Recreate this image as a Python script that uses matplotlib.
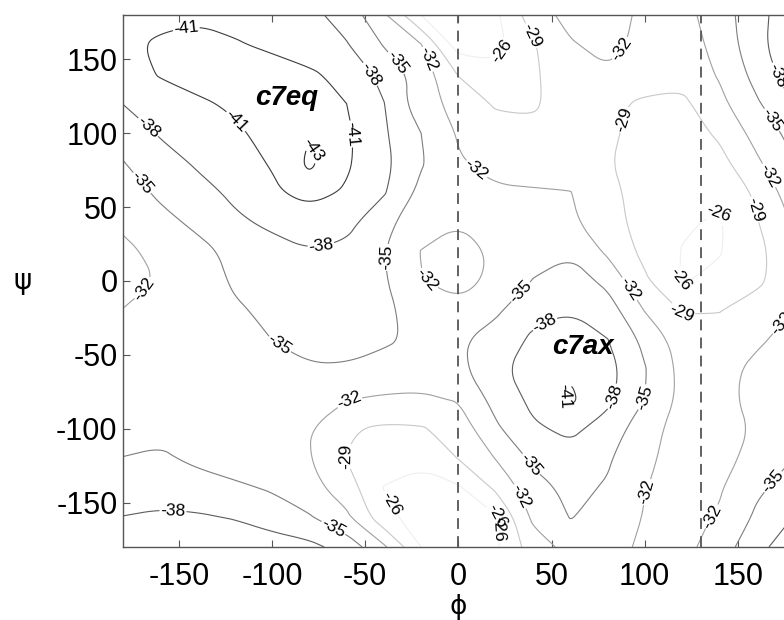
import matplotlib
matplotlib.use("Agg")
import matplotlib.pyplot as plt
from matplotlib.path import Path
import numpy as np

# grid of the energy surface (kcal/mol)
phi_deg = [-180, -160, -140, -120, -100, -80, -60, -40, -20, 0,
           20, 40, 60, 80, 100, 120, 140, 160, 180]
psi_deg = [-180, -160, -140, -120, -100, -80, -60, -40, -20, 0,
           20, 40, 60, 80, 100, 120, 140, 160, 180]

# one row per psi value, columns follow phi_deg
row_m180 = [-40.0, -40.5, -40.7, -40.3, -39.6, -38.8, -36.8, -32.5, -26.0, -24.5, -25.5, -30.5, -33.0, -33.0, -31.5, -31.0, -33.5, -37.0, -40.0]
row_m160 = [-38.1, -38.6, -38.4, -37.8, -36.5, -35.3, -32.6, -27.0, -24.5, -24.3, -25.6, -32.6, -35.1, -34.2, -31.8, -31.0, -32.3, -35.5, -38.1]
row_m140 = [-36.2, -36.4, -36.0, -35.5, -34.7, -33.0, -30.5, -25.9, -25.3, -25.6, -29.5, -33.8, -35.8, -34.7, -32.1, -30.9, -31.7, -34.5, -36.2]
row_m120 = [-35.05, -35.4, -34.5, -33.6, -32.8, -32.1, -28.9, -27.0, -26.4, -29.1, -32.1, -35.6, -37.0, -35.4, -32.5, -31.0, -31.2, -32.8, -35.05]
row_m100 = [-34.2, -34.3, -33.9, -33.2, -32.6, -32.1, -29.3, -28.5, -28.7, -30.3, -34.5, -37.6, -38.6, -37.0, -33.0, -31.0, -31.0, -32.3, -34.2]
row_m80 = [-33.7, -33.9, -33.8, -33.4, -33.0, -32.8, -32.1, -31.6, -31.6, -32.2, -36.0, -38.7, -41.6, -38.6, -35.0, -31.2, -31.6, -32.4, -33.7]
row_m60 = [-33.2, -33.5, -33.7, -33.9, -34.2, -34.7, -34.6, -34.0, -33.3, -34.3, -37.1, -39.7, -40.6, -39.2, -35.2, -31.2, -31.3, -32.5, -33.2]
row_m40 = [-32.7, -33.4, -33.9, -34.3, -35.0, -36.0, -36.3, -35.4, -34.4, -34.6, -36.3, -38.5, -39.8, -38.1, -34.3, -30.6, -30.0, -31.7, -32.7]
row_m20 = [-32.1, -33.0, -34.0, -34.7, -35.5, -36.2, -36.5, -35.6, -33.8, -32.8, -34.5, -37.2, -37.9, -36.5, -31.9, -28.8, -28.9, -30.3, -32.1]
row_0 = [-30.8, -32.2, -33.8, -35.3, -36.3, -36.6, -36.4, -35.3, -32.1, -31.0, -32.6, -35.1, -36.6, -34.2, -29.5, -25.8, -26.7, -28.4, -30.8]
row_p20 = [-31.5, -32.6, -34.2, -35.7, -37.0, -37.9, -37.3, -35.1, -31.9, -31.2, -32.3, -34.2, -34.6, -31.5, -28.2, -25.9, -25.8, -28.0, -31.5]
row_p40 = [-32.4, -34.2, -35.6, -37.5, -38.6, -39.5, -39.0, -35.8, -33.3, -32.1, -32.6, -33.0, -32.6, -30.0, -28.0, -26.3, -25.7, -28.8, -32.4]
row_p60 = [-33.7, -35.5, -37.0, -38.6, -40.6, -42.0, -40.7, -38.3, -34.2, -32.8, -32.4, -32.3, -32.1, -29.8, -27.8, -26.8, -26.5, -29.5, -33.7]
row_p80 = [-34.9, -36.7, -38.4, -40.0, -41.2, -43.4, -41.4, -38.8, -35.3, -32.3, -31.0, -30.5, -30.2, -29.2, -27.8, -27.0, -28.0, -31.5, -34.9]
row_p100 = [-36.0, -38.3, -39.5, -40.6, -41.8, -42.9, -41.5, -38.4, -35.0, -31.7, -30.3, -29.5, -30.0, -29.5, -28.0, -27.5, -29.5, -33.0, -36.0]
row_p120 = [-38.05, -39.8, -40.6, -41.4, -42.3, -42.6, -41.0, -38.1, -33.0, -31.2, -28.6, -28.7, -30.0, -29.6, -28.5, -28.3, -31.2, -34.6, -38.05]
row_p140 = [-39.8, -41.2, -42.0, -42.0, -41.9, -41.4, -40.2, -37.0, -33.8, -28.8, -27.0, -28.5, -31.0, -31.6, -30.5, -30.0, -32.3, -36.0, -39.8]
row_p160 = [-40.6, -41.3, -41.6, -41.2, -40.6, -39.6, -38.2, -34.8, -32.1, -24.5, -25.0, -28.7, -31.7, -33.0, -31.0, -30.5, -33.0, -37.0, -40.6]
row_p180 = [-40.0, -40.5, -40.7, -40.3, -39.6, -38.8, -36.8, -32.5, -26.0, -24.5, -25.5, -30.5, -33.0, -33.0, -31.5, -31.0, -33.5, -37.0, -40.0]

levels = [-43, -41, -38, -35, -32, -29, -26]
level_colors = ['#2e2e2e', '#3c3c3c', '#5c5c5c', '#7e7e7e', '#a0a0a0', '#c8c8c8', '#efefef']

# where the contour labels sit (phi, psi)
label_spots = [(-146, 170), (-117, 111), (-53, 100), (-72, 91),
               (-168, 102), (-46, 141), (-73, 19), (-153, -151),
               (-33, 148), (-171, 65), (-39, 16), (-97, -45), (-67, -167),
               (-168, -6), (8, 73), (-15, 3), (-58, -83), (31, -147),
               (91, -6), (99, -142), (166, 71), (171, -26), (137, -160), (85, 159),
               (-13, 152), (39, 166), (89, 109), (158, 48), (119, -24), (-58, -119), (22, -158),
               (32, 150), (141, 53), (119, 1), (-40, -153), (19, -164),
               (34, -8), (99, -79), (39, -124), (168, -135), (166, 107), (169, 138),
               (48, -33), (85, -79), (58, -78)]

minima = ['c7eq', 'c7ax']
minima_pos = [(-92, 124), (67, -45)]
divider_phi = [0, 130]
ticks = [-150, -100, -50, 0, 50, 100, 150]

energy = np.array([row_m180, row_m160, row_m140, row_m120, row_m100, row_m80,
                   row_m60, row_m40, row_m20, row_0, row_p20, row_p40, row_p60,
                   row_p80, row_p100, row_p120, row_p140, row_p160, row_p180])


def chaikin(v, closed, n=3):
    # corner cutting, only to round off the coarse-grid contour lines
    for _ in range(n):
        if len(v) < 3:
            break
        if closed:
            p, q = v, np.roll(v, -1, axis=0)
            new = np.empty((2 * len(p), 2))
            new[0::2] = 0.75 * p + 0.25 * q
            new[1::2] = 0.25 * p + 0.75 * q
            v = new
        else:
            p, q = v[:-1], v[1:]
            new = np.empty((2 * len(p), 2))
            new[0::2] = 0.75 * p + 0.25 * q
            new[1::2] = 0.25 * p + 0.75 * q
            v = np.vstack([v[:1], new, v[-1:]])
    return v


def smooth_path(path):
    verts, codes = path.vertices, path.codes
    if len(verts) == 0:
        return path
    if codes is None:
        codes = np.full(len(verts), Path.LINETO)
        codes[0] = Path.MOVETO
    starts = list(np.where(codes == Path.MOVETO)[0]) + [len(verts)]
    out_v, out_c = [], []
    for a, b in zip(starts[:-1], starts[1:]):
        seg_v, seg_c = verts[a:b], codes[a:b]
        closed = seg_c[-1] == Path.CLOSEPOLY
        if closed:
            seg_v = seg_v[:-1]
        elif len(seg_v) > 2 and np.allclose(seg_v[0], seg_v[-1]):
            closed = True
            seg_v = seg_v[:-1]
        sv = chaikin(seg_v, closed)
        c = np.full(len(sv), Path.LINETO)
        c[0] = Path.MOVETO
        if closed:
            sv = np.vstack([sv, sv[:1]])
            c = np.append(c, Path.CLOSEPOLY)
        out_v.append(sv)
        out_c.append(c)
    return Path(np.vstack(out_v), np.concatenate(out_c))


plt.rcParams['font.family'] = ['Liberation Sans', 'DejaVu Sans']
plt.rcParams['axes.unicode_minus'] = False

fig = plt.figure(figsize=(7.84, 6.2), dpi=100)
ax = fig.add_axes([123 / 784, 73 / 620, 670.8 / 784, 532 / 620])

cs = ax.contour(phi_deg, psi_deg, energy, levels=levels, colors=level_colors, linewidths=0.8)
new_paths = [smooth_path(p) for p in cs.get_paths()]
try:
    cs.set_paths(new_paths)
except Exception:
    cs._paths = new_paths
ax.clabel(cs, fmt='%d', fontsize=12.5, colors='k', inline=True, inline_spacing=1,
          manual=label_spots)

for x in divider_phi:
    ax.axvline(x, color='#555555', lw=1.3, ls=(0, (6, 4)))

for name, (x, y) in zip(minima, minima_pos):
    ax.text(x, y, name, fontsize=20, fontweight='bold', fontstyle='italic',
            ha='center', va='center')

ax.set_xlim(-180, 180)
ax.set_ylim(-180, 180)
ax.set_xticks(ticks)
ax.set_yticks(ticks)
ax.tick_params(direction='in', length=5, width=0.8, color='#555555',
               top=True, right=True, labelsize=22)
ax.tick_params(axis='x', pad=11)
ax.tick_params(axis='y', pad=4)
for s in ax.spines.values():
    s.set_color('#555555')
    s.set_linewidth(1.0)

ax.set_xlabel('\u03d5', fontsize=19, family='DejaVu Sans', labelpad=1)
ax.set_ylabel('\u03c8', fontsize=20, family='DejaVu Sans', labelpad=24, rotation=0,
              va='center')

fig.savefig('out.png', dpi=100)
